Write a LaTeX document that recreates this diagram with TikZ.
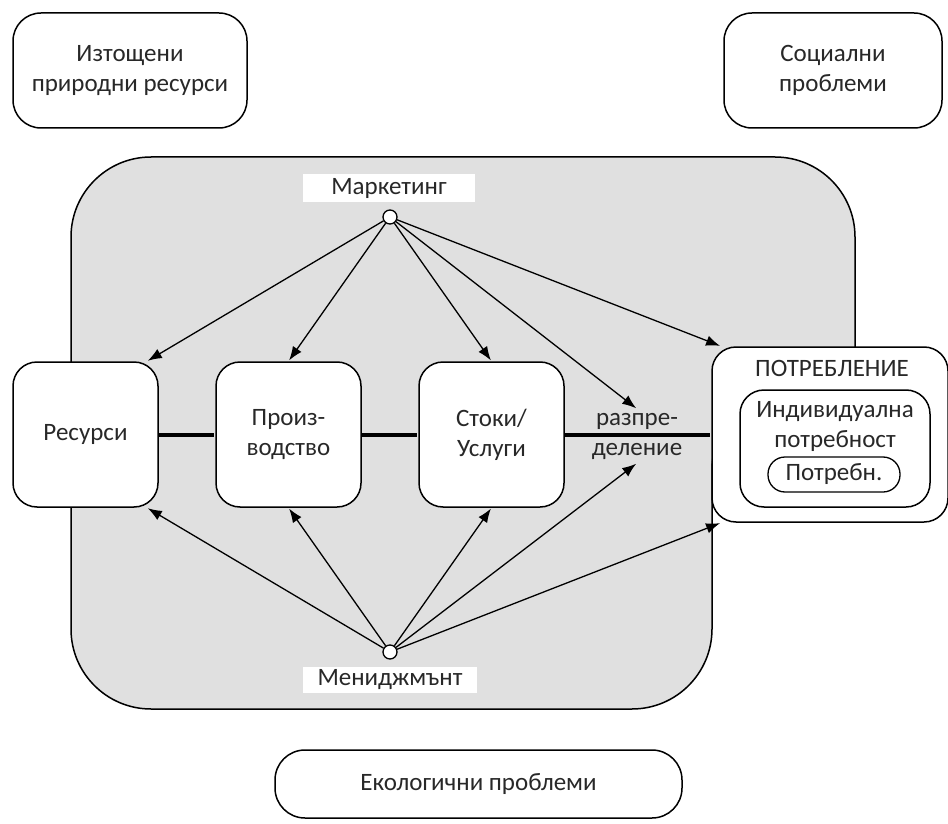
\documentclass[tikz,border=0pt]{standalone}
\usepackage{fontspec}
\setmainfont{Carlito}
\usetikzlibrary{arrows.meta}
\definecolor{panel}{RGB}{224,224,224}
\definecolor{ink}{RGB}{40,40,40}

\begin{document}
\begin{tikzpicture}[x=1pt,y=-1pt,->,>={Latex[length=14pt,width=10.5pt]},shorten >=1pt,%
        node distance=203pt,line width=1.3pt,
        font=\fontsize{25}{30}\selectfont,text=ink,
        box/.style={draw,fill=white,line width=1.5pt,rounded corners=24pt,
          align=center,inner sep=0pt,minimum width=145pt,minimum height=145pt},
        tag/.style={fill=white,inner sep=0pt,minimum width=172pt,minimum height=28pt},
        dot/.style={circle,draw,fill=white,inner sep=0pt,minimum size=14pt},
        flow/.style={-,line width=4pt}]

      \useasboundingbox (0,0) rectangle (948,824);

      % grey area of the firm
      \draw[-,fill=panel,line width=1.5pt,rounded corners=80pt] (71,430) -- (71,157) -- (855,157)
        -- (855,480) -- (712,390) -- (712,709) -- (71,709) -- cycle;

      \node[box,minimum width=234pt,minimum height=115pt,rounded corners=28pt] (Iz) at (130,70.5) {Изтощени\\природни ресурси};
      \node[box,minimum width=218pt,minimum height=115pt,rounded corners=28pt] (So) at (833,70.5) {Социални\\проблеми};
      \node[box,minimum width=407pt,minimum height=68pt,rounded corners=30pt] (Ek) at (478.5,784) {Екологични проблеми};

      \node[box]      (Res) at (85.5,434.5)    {Ресурси};
      \node[box]      (Pro) [right of=Res]     {Произ-\\водство};
      \node[box]      (Sto) [right of=Pro]     {Стоки/\\Услуги};
      \node[align=center] (Raz) at (637,436)  {разпре-\\деление};

      \node[box,minimum width=236pt,minimum height=175pt] (Pot) at (830,434.5) {};
      \node[]         (PotT) at (832,368)      {ПОТРЕБЛЕНИЕ};
      \node[box,minimum width=190pt,minimum height=117pt] (Ind) at (835,448.5) {};
      \node[align=center] (IndT) at (835,426) {Индивидуална\\потребност};
      \node[draw,fill=white,rounded corners=17pt,inner sep=0pt,
        minimum width=132pt,minimum height=35pt] (Ptr) at (834,474.5) {Потребн.};

      \node[tag]      (MkT) at (389,188)       {Маркетинг};
      \node[dot]      (Mk)  at (390,217)       {};
      \node[tag,minimum width=174pt,minimum height=26pt] (MnT) at (390,680) {Мениджмънт};
      \node[dot]      (Mn)  at (390,652)       {};

      \path
      (Res) edge[flow] (Pro)
      (Pro) edge[flow] (Sto)
      (Sto) edge[flow] (Pot)

      (Mk) edge (Res.50)
      edge (Pro.north)
      edge (Sto.north)
      edge (Raz.north)
      edge (Pot.141)

      (Mn) edge (Res.310)
      edge (Pro.south)
      edge (Sto.south)
      edge (Raz.south)
      edge (Pot.219);

    \end{tikzpicture}
\end{document}
